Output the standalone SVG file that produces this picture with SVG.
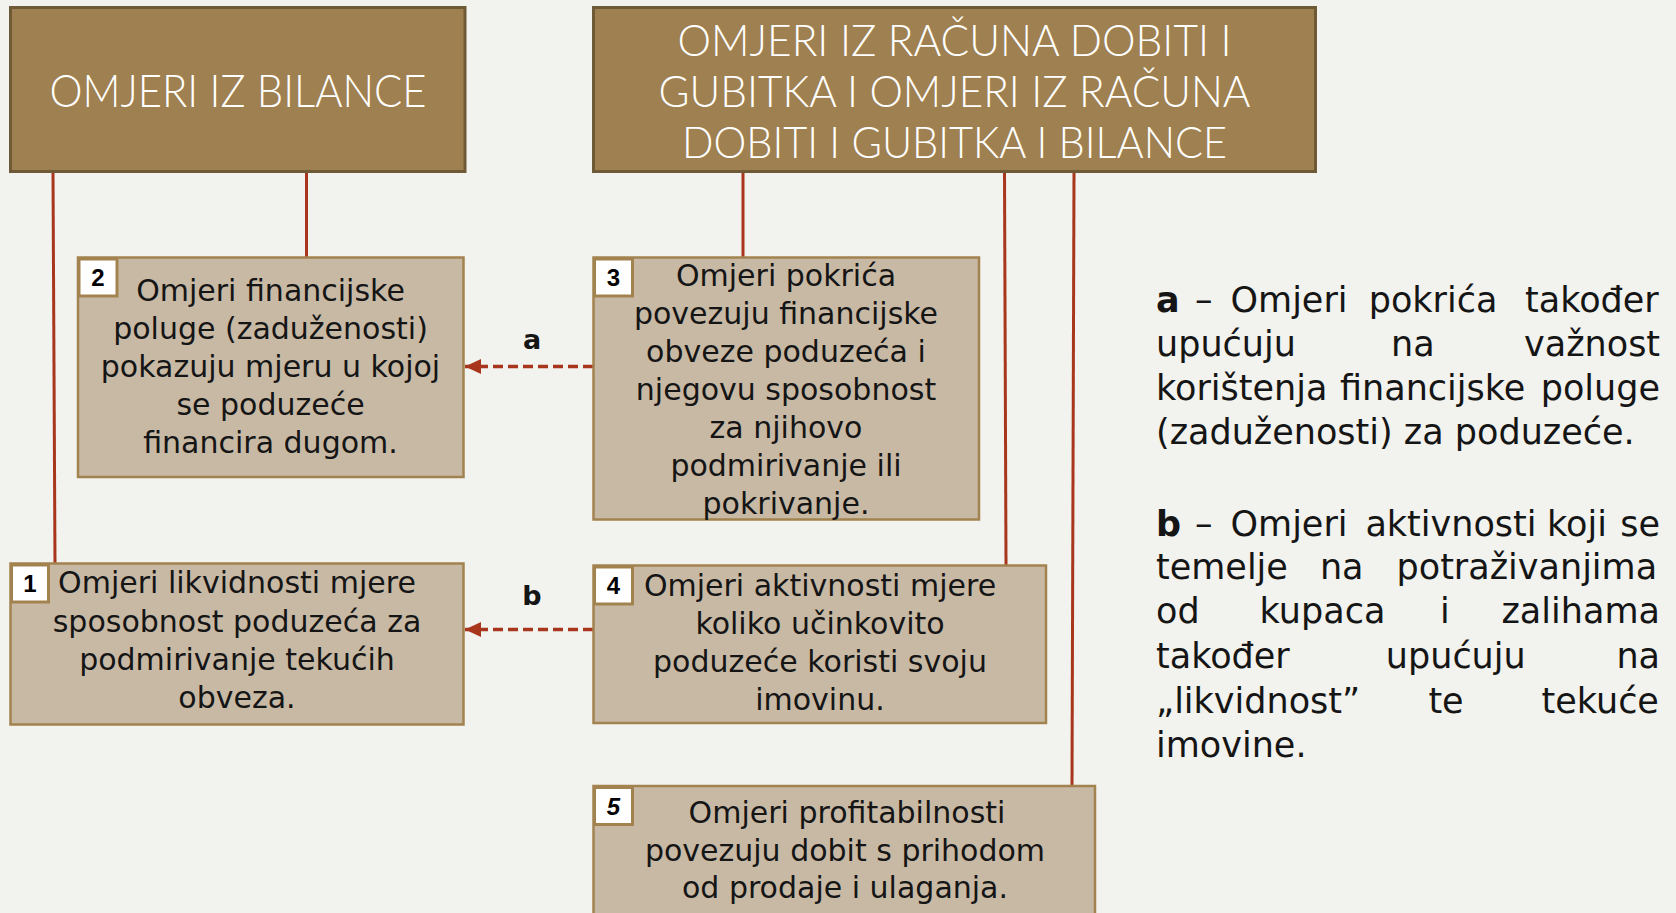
<svg xmlns="http://www.w3.org/2000/svg" width="1676" height="913" viewBox="0 0 1676 913">
<defs>
<style>
.bg{fill:#f2f2ee}
.hdr{fill:#9f8050;stroke:#6f5a37;stroke-width:3}
.hdrt{font-family:Lato,"DejaVu Sans",sans-serif;font-weight:300;font-size:44px;fill:#ffffff;text-anchor:middle}
.h1t{font-size:46px}
.box{fill:#c8b9a5;stroke:#a2834f;stroke-width:2.5}
.badge{fill:#ffffff;stroke:#a2834f;stroke-width:3}
.num{font-family:"Liberation Sans",Arial,sans-serif;font-weight:bold;font-size:24px;fill:#000;text-anchor:middle}
.txt{font-family:"DejaVu Sans",sans-serif;font-size:30px;fill:#151515;text-anchor:middle}
.side{font-family:"DejaVu Sans",sans-serif;font-size:35px;fill:#151515}
.b{font-weight:bold}
.conn{stroke:#a8361d;stroke-width:3;fill:none}
.dash{stroke-width:3.5;stroke-dasharray:10 5}
.lbl{font-family:"DejaVu Sans",sans-serif;font-weight:bold;font-size:27px;fill:#151515;text-anchor:middle}
</style>
<marker id="arr" markerUnits="userSpaceOnUse" markerWidth="16" markerHeight="15" refX="16" refY="7.5" orient="auto">
<path d="M0,0 L16,7.5 L0,15 z" fill="#a8361d"/>
</marker>
</defs>
<rect class="bg" x="0" y="0" width="1676" height="913"/>

<g id="connectors">
<line class="conn" x1="53" y1="172" x2="55" y2="563"/>
<line class="conn" x1="306.5" y1="172" x2="306.5" y2="257"/>
<line class="conn" x1="743" y1="172" x2="743" y2="257"/>
<line class="conn" x1="1004.5" y1="172" x2="1006" y2="565"/>
<line class="conn" x1="1074" y1="172" x2="1072" y2="786"/>
<line class="conn dash" x1="593" y1="366.5" x2="465" y2="366.5" marker-end="url(#arr)"/>
<line class="conn dash" x1="593" y1="629.5" x2="465" y2="629.5" marker-end="url(#arr)"/>
<text class="lbl" x="532" y="349">a</text>
<text class="lbl" x="532" y="605">b</text>
</g>

<g id="header-bilanca">
<rect class="hdr" x="10.5" y="7.5" width="454.5" height="164"/>
<text class="hdrt h1t" x="238" y="107" textLength="377" lengthAdjust="spacingAndGlyphs">OMJERI IZ BILANCE</text>
</g>

<g id="header-rdg">
<rect class="hdr" x="593.5" y="7.5" width="722" height="164"/>
<text class="hdrt" x="954.5" y="56" textLength="554" lengthAdjust="spacingAndGlyphs">OMJERI IZ RAČUNA DOBITI I</text>
<text class="hdrt" x="954.5" y="107" textLength="592" lengthAdjust="spacingAndGlyphs">GUBITKA I OMJERI IZ RAČUNA</text>
<text class="hdrt" x="954.5" y="158" textLength="545" lengthAdjust="spacingAndGlyphs">DOBITI I GUBITKA I BILANCE</text>
</g>

<g id="node2">
<rect class="box" x="78" y="257.5" width="385.5" height="219.5"/>
<rect class="badge" x="79" y="259" width="38" height="37"/>
<text class="num" x="98" y="286">2</text>
<text class="txt" x="270.5" y="301">Omjeri financijske</text>
<text class="txt" x="270.5" y="339">poluge (zaduženosti)</text>
<text class="txt" x="270.5" y="377">pokazuju mjeru u kojoj</text>
<text class="txt" x="270.5" y="415">se poduzeće</text>
<text class="txt" x="270.5" y="453">financira dugom.</text>
</g>

<g id="node3">
<rect class="box" x="593.5" y="257.5" width="385.5" height="262"/>
<rect class="badge" x="594.5" y="259" width="38" height="37"/>
<text class="num" x="613.5" y="286">3</text>
<text class="txt" x="786" y="286">Omjeri pokrića</text>
<text class="txt" x="786" y="324">povezuju financijske</text>
<text class="txt" x="786" y="362">obveze poduzeća i</text>
<text class="txt" x="786" y="400">njegovu sposobnost</text>
<text class="txt" x="786" y="438">za njihovo</text>
<text class="txt" x="786" y="476">podmirivanje ili</text>
<text class="txt" x="786" y="514">pokrivanje.</text>
</g>

<g id="node1">
<rect class="box" x="10.5" y="563.5" width="453" height="161"/>
<rect class="badge" x="11.5" y="565" width="37" height="37"/>
<text class="num" x="30" y="592">1</text>
<text class="txt" x="237" y="593">Omjeri likvidnosti mjere</text>
<text class="txt" x="237" y="631.5">sposobnost poduzeća za</text>
<text class="txt" x="237" y="670">podmirivanje tekućih</text>
<text class="txt" x="237" y="708">obveza.</text>
</g>

<g id="node4">
<rect class="box" x="593.5" y="565.5" width="452.5" height="157.5"/>
<rect class="badge" x="594.5" y="567" width="38" height="37"/>
<text class="num" x="613.5" y="594">4</text>
<text class="txt" x="820" y="596">Omjeri aktivnosti mjere</text>
<text class="txt" x="820" y="634">koliko učinkovito</text>
<text class="txt" x="820" y="672">poduzeće koristi svoju</text>
<text class="txt" x="820" y="710">imovinu.</text>
</g>

<g id="node5">
<rect class="box" x="593.5" y="786" width="501.5" height="160"/>
<rect class="badge" x="594.5" y="787.5" width="38" height="37"/>
<text class="num" x="613.5" y="814.5" font-style="italic">5</text>
<text class="txt" x="847" y="823">Omjeri profitabilnosti</text>
<text class="txt" x="845" y="861">povezuju dobit s prihodom</text>
<text class="txt" x="845" y="898">od prodaje i ulaganja.</text>
</g>

<g id="notes">
<text class="side" y="312"><tspan class="b" x="1156">a</tspan><tspan x="1195">–</tspan><tspan x="1230.5">Omjeri</tspan><tspan x="1368.7">pokrića</tspan><tspan x="1525">također</tspan></text>
<text class="side" y="355.5"><tspan x="1156">upućuju</tspan><tspan x="1391">na</tspan><tspan x="1524">važnost</tspan></text>
<text class="side" y="399.5"><tspan x="1156">korištenja</tspan><tspan x="1340">financijske</tspan><tspan x="1540.7">poluge</tspan></text>
<text class="side" x="1156" y="444">(zaduženosti) za poduzeće.</text>
<text class="side" y="536"><tspan class="b" x="1156">b</tspan><tspan x="1195">–</tspan><tspan x="1230.5">Omjeri</tspan><tspan x="1365.4">aktivnosti</tspan><tspan x="1547">koji</tspan><tspan x="1620.2">se</tspan></text>
<text class="side" y="579"><tspan x="1156">temelje</tspan><tspan x="1319.9">na</tspan><tspan x="1396.5">potraživanjima</tspan></text>
<text class="side" y="623"><tspan x="1156">od</tspan><tspan x="1259.6">kupaca</tspan><tspan x="1440.1">i</tspan><tspan x="1501.5">zalihama</tspan></text>
<text class="side" y="668"><tspan x="1156">također</tspan><tspan x="1385.8">upućuju</tspan><tspan x="1616.4">na</tspan></text>
<text class="side" y="712.5"><tspan x="1156">„likvidnost”</tspan><tspan x="1428.4">te</tspan><tspan x="1541.5">tekuće</tspan></text>
<text class="side" x="1156" y="757">imovine.</text>
</g>
</svg>
